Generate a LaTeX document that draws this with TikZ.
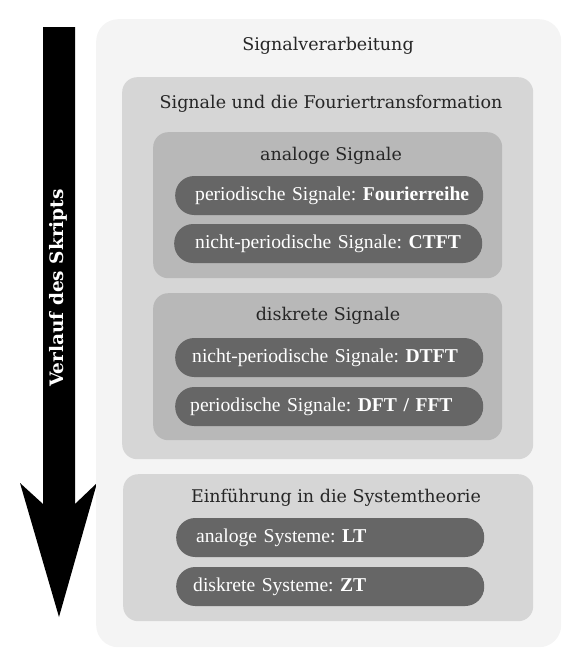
\documentclass[tikz,border=0pt]{standalone}
\usepackage{fontspec}
\setmainfont{Liberation Serif}
\newfontfamily\titlefont{DejaVu Serif}
\usetikzlibrary{positioning}
\frenchspacing

\definecolor{outerbg}{HTML}{F4F4F4}
\definecolor{groupbg}{HTML}{D6D6D6}
\definecolor{subbg}{HTML}{B8B8B8}
\definecolor{pillbg}{HTML}{666666}

\begin{document}
\begin{tikzpicture}[x=1pt,y=-1pt,
    panel/.style={rounded corners=#1, inner sep=0pt, anchor=north west},
    heading/.style={font=\titlefont\fontsize{17.5}{20}\selectfont, text=black!85, inner sep=0pt},
    pill/.style={fill=pillbg, rounded corners=19pt, minimum height=39pt,
        text width=308pt, inner xsep=0pt, inner ysep=0pt, align=left,
        text=white, font=\fontsize{19.6}{22}\selectfont, anchor=west}]
    \useasboundingbox (0,0) rectangle (582,670);

    % Define the coordinates of the arrow
    \coordinate (top l) at (43,27);
    \coordinate (top r) at (75,27);
    \coordinate (neck r) at (75,504);
    \coordinate (wing r) at (97,483);
    \coordinate (tip) at (59,617);
    \coordinate (wing l) at (20,483);
    \coordinate (neck l) at (43,504);

    % Draw the arrow
    \fill (top l) -- (top r) -- (neck r) -- (wing r) -- (tip) -- (wing l) -- (neck l) -- cycle;
    \node[rotate=90, text=white, inner sep=0pt,
        font=\titlefont\bfseries\fontsize{18.5}{21}\selectfont] (verlauf) at (58,288) {Verlauf des Skripts};

    % Draw the panels
    \node[panel=22pt, fill=outerbg, minimum width=465pt, minimum height=628pt] (sv) at (96,19) {};
    \node[panel=15pt, fill=groupbg, minimum width=411pt, minimum height=382pt] (sf) at (122,77) {};
    \node[panel=15pt, fill=subbg, minimum width=349pt, minimum height=146pt] (as) at (153,132) {};
    \node[panel=15pt, fill=subbg, minimum width=349pt, minimum height=147pt] (ds) at (153,293) {};
    \node[panel=15pt, fill=groupbg, minimum width=410pt, minimum height=147pt] (st) at (123,474) {};

    % Headings
    \node[heading] (sv title) at (328,46) {Signalverarbeitung};
    \node[heading] (sf title) at (331,104) {Signale und die Fouriertransformation};
    \node[heading] (as title) at (331,156) {analoge Signale};
    \node[heading] (ds title) at (328,316) {diskrete Signale};
    \node[heading] (st title) at (336,498) {Einführung in die Systemtheorie};

    % Pills
    \node[pill] (fr) at (175,195.5) {\hspace*{20pt}periodische Signale: \textbf{Fourierreihe}};
    \node[pill] (ctft) at (174,243.5) {\hspace*{21pt}nicht-periodische Signale: \textbf{CTFT}};
    \node[pill] (dtft) at (175,357.5) {\hspace*{17pt}nicht-periodische Signale: \textbf{DTFT}};
    \node[pill] (dft) at (175,406.5) {\hspace*{15pt}periodische Signale: \textbf{DFT / FFT}};
    \node[pill] (lt) at (176,537.5) {\hspace*{20pt}analoge Systeme: \textbf{LT}};
    \node[pill] (zt) at (176,586.5) {\hspace*{17pt}diskrete Systeme: \textbf{ZT}};
\end{tikzpicture}
\end{document}
